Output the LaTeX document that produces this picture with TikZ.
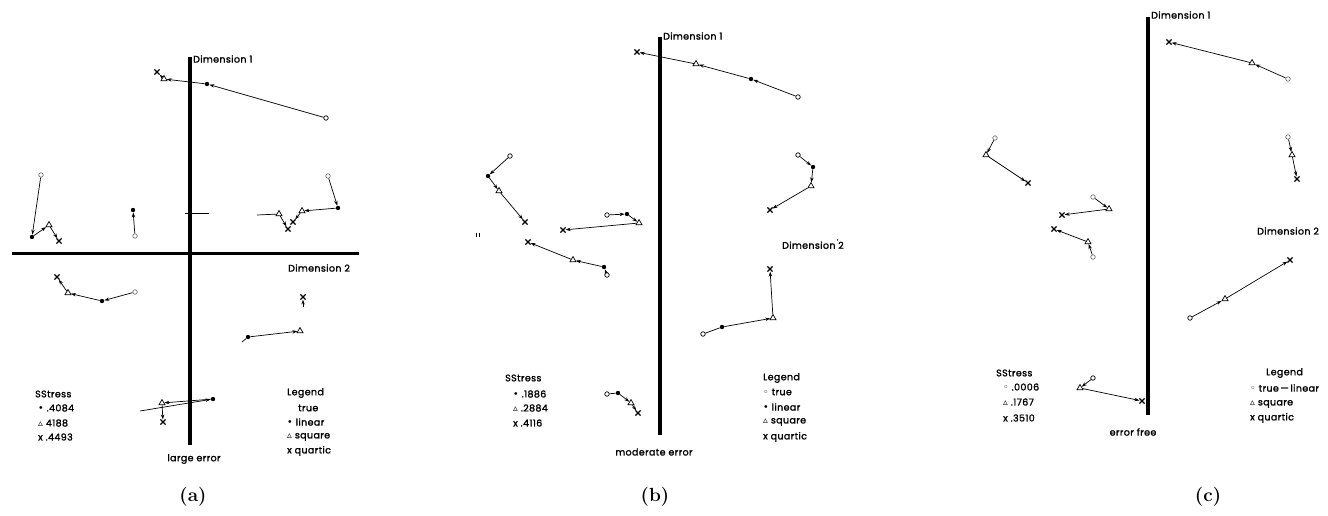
\documentclass[tikz,border=0pt]{standalone}
\usepackage{fontspec}
\usepackage{tikz}
\usetikzlibrary{arrows.meta,shapes.geometric,shapes.misc}
\newfontfamily\plotfont{Poppins}[FakeBold=1.6,LetterSpace=4]
\newfontfamily\symfont{DejaVu Sans}

\begin{document}
\begin{tikzpicture}[x=1pt,y=1pt,yscale=-1,
  tru/.style={circle,draw,line width=0.7pt,inner sep=0pt,minimum size=4.5pt},
  truf/.style={tru,draw=black!55},
  lin/.style={circle,fill,inner sep=0pt,minimum size=4.4pt},
  sqr/.style={regular polygon,regular polygon sides=3,draw,line width=0.7pt,inner sep=0pt,minimum size=7pt},
  qrt/.style={cross out,draw,line width=1.2pt,inner sep=0pt,minimum size=4pt},
  conn/.style={line width=0.7pt,-{Stealth[length=5pt,width=3.4pt]}},
  plain/.style={line width=0.7pt},
  axis/.style={line width=3.8pt},
  lbl/.style={font=\plotfont\fontsize{9.5}{12}\selectfont,inner sep=0pt,anchor=west},
  figcap/.style={font=\bfseries\fontsize{19}{22}\selectfont,inner sep=0pt}]
\useasboundingbox (0,0) rectangle (1328,515);

%%%%%%%%%%%%%%%%%%%%%%%% panel (a)
%Axes
\coordinate (aTop) at (190,57);
\coordinate (aBot) at (190,445);
\coordinate (aLft) at (12,253);
\coordinate (aRgt) at (359,253);
\draw[axis] (aTop) -- (aBot);
\draw[line width=3pt] (aLft) -- (aRgt);
\coordinate (aTk1) at (185,213);
\coordinate (aTk2) at (209,213);
\draw[line width=0.8pt] (aTk1) -- (aTk2);

% Text Node
\node[lbl] (aDim1) at (193,59) {Dimension 1};
\node[lbl] (aDim2) at (288,268) {Dimension 2};

%Points
\node[tru]  (a1t) at (326,118) {};
\node[lin]  (a1l) at (207,84) {};
\node[sqr]  (a1s) at (164,79) {};
\node[qrt]  (a1q) at (157,72) {};
\draw[conn] (a1t) -- (a1l);
\draw[conn] (a1l) -- (a1s);
\draw[conn] (a1s) -- (a1q);

\node[truf] (a2t) at (41,175) {};
\node[lin]  (a2l) at (32,237) {};
\node[sqr]  (a2s) at (49,225) {};
\node[qrt]  (a2q) at (59,241) {};
\draw[conn] (a2t) -- (a2l);
\draw[conn] (a2l) -- (a2s);
\draw[conn] (a2s) -- (a2q);

\node[lin]  (a3l) at (133,210) {};
\node[truf] (a3t) at (135,236) {};
\draw[conn] (a3t) -- (a3l);

\node[truf] (a4t) at (328,176) {};
\node[lin]  (a4l) at (338,208) {};
\node[sqr]  (a4s) at (302,211) {};
\node[qrt]  (a4q) at (293,222) {};
\draw[conn] (a4t) -- (a4l);
\draw[conn] (a4l) -- (a4s);
\draw[conn] (a4s) -- (a4q);

\coordinate (a5e) at (257,215);
\node[sqr]  (a5s) at (279,214) {};
\node[qrt]  (a5q) at (288,229) {};
\draw[plain] (a5e) -- (a5s);
\draw[conn] (a5s) -- (a5q);

\node[qrt]  (a6q) at (57,277) {};
\node[sqr]  (a6s) at (68,293) {};
\node[lin]  (a6l) at (102,301) {};
\node[truf] (a6t) at (135,292) {};
\draw[conn] (a6t) -- (a6l);
\draw[conn] (a6l) -- (a6s);
\draw[conn] (a6s) -- (a6q);

\coordinate (a7t) at (242,342);
\node[lin]  (a7l) at (248,337) {};
\node[sqr]  (a7s) at (300,331) {};
\node[qrt]  (a7q) at (303,297) {};
\coordinate (a7u) at (303,307);
\draw[plain] (a7t) -- (a7l);
\draw[conn] (a7l) -- (a7s);
\draw[conn] (a7u) -- (a7q);

\coordinate (a8t) at (140,411);
\node[lin]  (a8l) at (213,399) {};
\node[sqr]  (a8s) at (162,403) {};
\node[qrt]  (a8q) at (163,422) {};
\draw[conn] (a8t) -- (a8l);
\draw[conn] (a8l) -- (a8s);
\draw[conn] (a8s) -- (a8q);

% Text Node
\node[lbl] (aSS)  at (35,394) {SStress};
\node[lbl] (aSS1) at (38,408) {{\symfont •} .4084};
\node[lbl] (aSS2) at (38,423) {{\symfont ▵} 4188};
\node[lbl] (aSS3) at (38,437) {x .4493};
\node[lbl] (aLg)  at (287,393) {Legend};
\node[lbl] (aLg1) at (298,408) {true};
\node[lbl] (aLg2) at (287,422) {{\symfont •} linear};
\node[lbl] (aLg3) at (287,437) {{\symfont ▵} square};
\node[lbl] (aLg4) at (287,451) {x quartic};
\node[lbl,anchor=center] (aErr) at (194,459) {large error};
\node[figcap] (aCap) at (193,497) {(a)};

%%%%%%%%%%%%%%%%%%%%%%%% panel (b)
\coordinate (bTop) at (660,37);
\coordinate (bBot) at (660,435);
\draw[axis] (bTop) -- (bBot);
\node[lbl] (bDim1) at (663,36) {Dimension 1};
\node[lbl] (bDim2) at (782,244) {Dimension\,\raisebox{4pt}{\fontsize{7}{7}\selectfont '}2};

\node[qrt]  (b1q) at (637,52) {};
\node[sqr]  (b1s) at (696,64) {};
\node[lin]  (b1l) at (751,79) {};
\node[tru]  (b1t) at (798,97) {};
\draw[conn] (b1t) -- (b1l);
\draw[conn] (b1l) -- (b1s);
\draw[conn] (b1s) -- (b1q);

\node[tru]  (b2t) at (510,156) {};
\node[lin]  (b2l) at (488,176) {};
\node[sqr]  (b2s) at (499,191) {};
\node[qrt]  (b2q) at (525,222) {};
\draw[conn] (b2t) -- (b2l);
\draw[conn] (b2l) -- (b2s);
\draw[conn] (b2s) -- (b2q);

\draw[line width=0.5pt] (476.5,233) -- (476.5,237) (479,233) -- (479,237);

\node[tru]  (b3t) at (607,215) {};
\node[lin]  (b3l) at (627,214) {};
\node[sqr]  (b3s) at (639,223) {};
\node[qrt]  (b3q) at (563,230) {};
\draw[conn] (b3t) -- (b3l);
\draw[conn] (b3l) -- (b3s);
\draw[conn] (b3s) -- (b3q);

\node[qrt]  (b4q) at (528,242) {};
\node[sqr]  (b4s) at (573,260) {};
\node[lin]  (b4l) at (604,267) {};
\node[tru]  (b4t) at (607,275) {};
\draw[conn] (b4t) -- (b4l);
\draw[conn] (b4l) -- (b4s);
\draw[conn] (b4s) -- (b4q);

\node[tru]  (b5t) at (798,155) {};
\node[lin]  (b5l) at (813,167) {};
\node[sqr]  (b5s) at (811,186) {};
\node[qrt]  (b5q) at (770,210) {};
\draw[conn] (b5t) -- (b5l);
\draw[conn] (b5l) -- (b5s);
\draw[conn] (b5s) -- (b5q);

\node[tru]  (b6t) at (703,334) {};
\node[lin]  (b6l) at (722,327) {};
\node[sqr]  (b6s) at (773,318) {};
\node[qrt]  (b6q) at (770,269) {};
\draw[plain] (b6t) -- (b6l);
\draw[conn] (b6l) -- (b6s);
\draw[conn] (b6s) -- (b6q);

\node[tru]  (b7t) at (607,394) {};
\node[lin]  (b7l) at (618,393) {};
\node[sqr]  (b7s) at (631,403) {};
\node[qrt]  (b7q) at (638,413) {};
\draw[plain] (b7t) -- (b7l);
\draw[conn] (b7l) -- (b7s);
\draw[conn] (b7s) -- (b7q);

% Text Node
\node[lbl] (bSS)  at (505,378) {SStress};
\node[lbl] (bSS1) at (513,394) {{\symfont •} .1886};
\node[lbl] (bSS2) at (513,408) {{\symfont ▵} .2884};
\node[lbl] (bSS3) at (513,423) {x .4116};
\node[lbl] (bLg)  at (763,378) {Legend};
\node[lbl] (bLg1) at (763,392) {{\symfont ◦} true};
\node[lbl] (bLg2) at (763,407) {{\symfont •} linear};
\node[lbl] (bLg3) at (763,422) {{\symfont ▵} square};
\node[lbl] (bLg4) at (763,437) {x quartic};
\node[lbl,anchor=center] (bErr) at (654,452) {moderate error};
\node[figcap] (bCap) at (655,497) {(b)};

%%%%%%%%%%%%%%%%%%%%%%%% panel (c)
\coordinate (cTop) at (1148,17);
\coordinate (cBot) at (1148,415);
\draw[axis] (cTop) -- (cBot);
\node[lbl] (cDim1) at (1151,15) {Dimension 1};
\node[lbl] (cDim2) at (1257,231) {Dimension 2};

\node[qrt]  (c1q) at (1169,42) {};
\node[sqr]  (c1s) at (1252,63) {};
\node[truf] (c1t) at (1288,79) {};
\draw[conn] (c1t) -- (c1s);
\draw[conn] (c1s) -- (c1q);

\node[truf] (c2t) at (1288,137) {};
\node[sqr]  (c2s) at (1292,155) {};
\node[qrt]  (c2q) at (1297,179) {};
\draw[conn] (c2t) -- (c2s);
\draw[conn] (c2s) -- (c2q);

\node[truf] (c3t) at (995,138) {};
\node[sqr]  (c3s) at (986,155) {};
\node[qrt]  (c3q) at (1028,183) {};
\draw[conn] (c3t) -- (c3s);
\draw[conn] (c3s) -- (c3q);

\node[truf] (c4t) at (1093,197) {};
\node[sqr]  (c4s) at (1109,209) {};
\node[qrt]  (c4q) at (1062,215) {};
\draw[conn] (c4t) -- (c4s);
\draw[conn] (c4s) -- (c4q);

\node[qrt]  (c5q) at (1054,229) {};
\node[sqr]  (c5s) at (1088,242) {};
\node[truf] (c5t) at (1093,257) {};
\draw[conn] (c5t) -- (c5s);
\draw[conn] (c5s) -- (c5q);

\node[tru]  (c6t) at (1190,318) {};
\node[sqr]  (c6s) at (1225,299) {};
\node[qrt]  (c6q) at (1290,260) {};
\draw[conn] (c6t) -- (c6s);
\draw[conn] (c6s) -- (c6q);

\node[tru]  (c7t) at (1093,378) {};
\node[sqr]  (c7s) at (1080,388) {};
\node[qrt]  (c7q) at (1142,401) {};
\draw[conn] (c7t) -- (c7s);
\draw[conn] (c7s) -- (c7q);

% Text Node
\node[lbl] (cSS)  at (996,373) {SStress};
\node[lbl] (cSS1) at (1003,387) {{\symfont ◦} .0006};
\node[lbl] (cSS2) at (1003,402) {{\symfont ▵} .1767};
\node[lbl] (cSS3) at (1003,418) {x .3510};
\node[lbl] (cLg)  at (1266,373) {Legend};
\node[lbl] (cLg1) at (1250,388) {{\symfont ◦} true\,—\,linear};
\node[lbl] (cLg2) at (1250,404) {{\symfont ▵} square};
\node[lbl] (cLg3) at (1250,418) {x quartic};
\node[lbl,anchor=center] (cErr) at (1133,432) {error free};
\node[figcap] (cCap) at (1208,497) {(c)};

\end{tikzpicture}
\end{document}
